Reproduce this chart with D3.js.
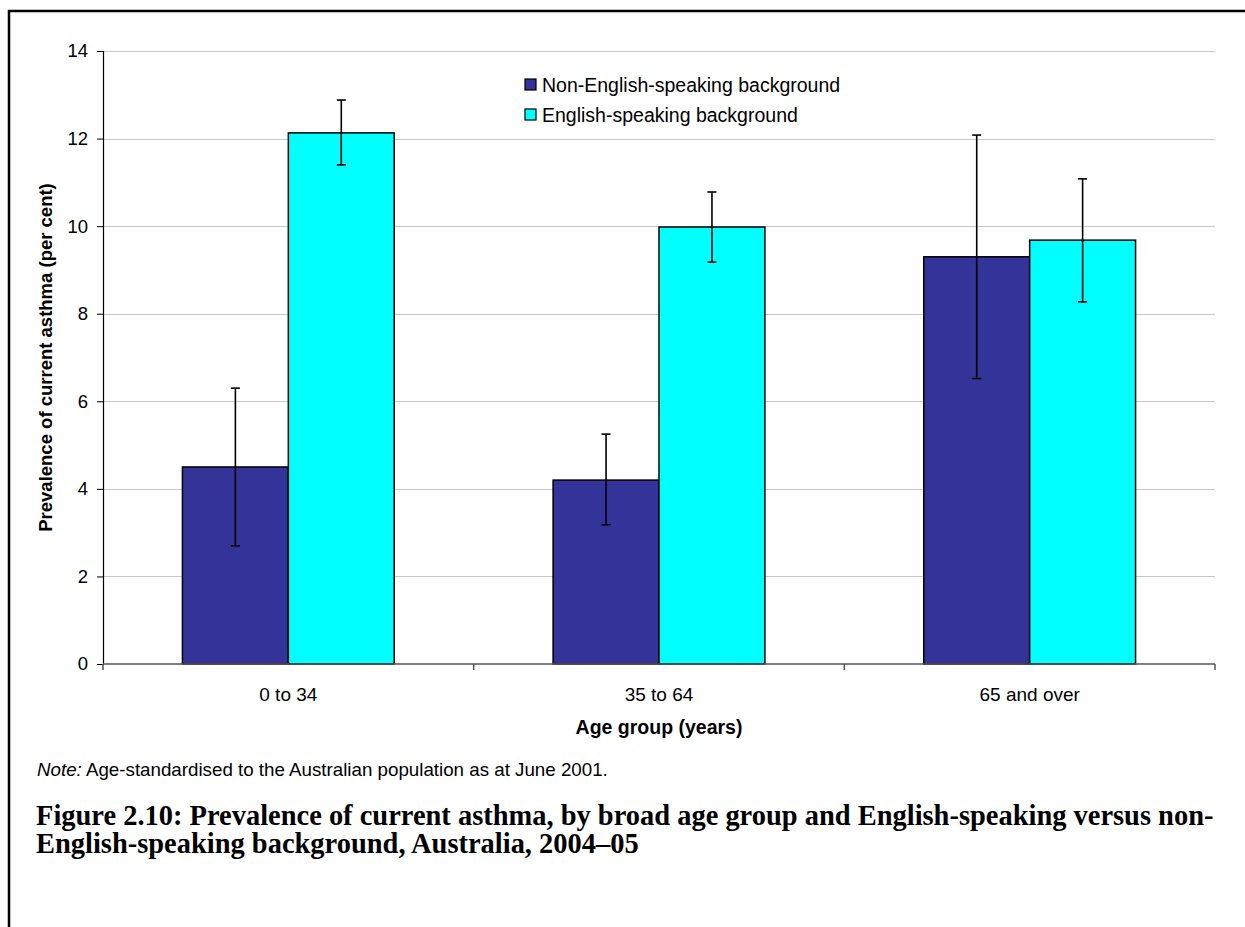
<!DOCTYPE html>
<html>
<head>
<meta charset="utf-8">
<script src="https://cdn.jsdelivr.net/npm/d3@7"></script>
<style>
  html, body { margin: 0; padding: 0; background: #fff; }
  svg { display: block; }
</style>
</head>
<body>
<svg id="chart" width="1245" height="927"></svg>
<script>
// Age groups and series
const categories = ["0 to 34", "35 to 64", "65 and over"];
const seriesNames = ["Non-English-speaking background", "English-speaking background"];
const seriesColors = ["#333399", "#00FFFF"];

// Prevalence (per cent) and 95% confidence limits
const nesbValues = [4.50, 4.20, 9.30];
const nesbLower  = [2.70, 3.18, 6.52];
const nesbUpper  = [6.30, 5.25, 12.08];
const esbValues  = [12.13, 9.98, 9.68];
const esbLower   = [11.40, 9.18, 8.27];
const esbUpper   = [12.88, 10.78, 11.08];

const yTicks = [0, 2, 4, 6, 8, 10, 12, 14];

const series = [
  { name: seriesNames[0], color: seriesColors[0], values: nesbValues, lower: nesbLower, upper: nesbUpper },
  { name: seriesNames[1], color: seriesColors[1], values: esbValues, lower: esbLower, upper: esbUpper }
];

const svg = d3.select("#chart");
const plot = { left: 103, right: 1215, top: 51, bottom: 664 };

const x0 = d3.scaleBand().domain(categories).range([plot.left, plot.right]).padding(0);
const x1 = d3.scaleBand().domain(seriesNames).range([0, x0.bandwidth()])
  .paddingInner(0).paddingOuter(0.75);
const y = d3.scaleLinear().domain([0, 14]).range([plot.bottom, plot.top]);

const sans = "'Liberation Sans', Arial, sans-serif";

// Page frame (top and left rules)
svg.append("path")
  .attr("d", "M9,927 V11 H1245")
  .attr("fill", "none").attr("stroke", "#000").attr("stroke-width", 2.5);

// Horizontal gridlines
svg.append("g").selectAll("line").data(yTicks.filter(d => d > 0)).join("line")
  .attr("x1", plot.left).attr("x2", plot.right)
  .attr("y1", d => Math.round(y(d)) + 0.5).attr("y2", d => Math.round(y(d)) + 0.5)
  .attr("stroke", "#c8c8c8").attr("stroke-width", 1);

// Bars
const groups = svg.append("g").selectAll("g").data(categories).join("g")
  .attr("transform", d => `translate(${x0(d)},0)`);

series.forEach(s => {
  groups.append("rect")
    .attr("x", (d, i) => x1(s.name))
    .attr("y", (d, i) => y(s.values[i]))
    .attr("width", x1.bandwidth())
    .attr("height", (d, i) => y(0) - y(s.values[i]))
    .attr("fill", s.color)
    .attr("stroke", "#000").attr("stroke-width", 1.5);
});

// Error bars
series.forEach(s => {
  const cx = x1(s.name) + x1.bandwidth() / 2;
  const eb = groups.append("g").attr("stroke", "#000").attr("stroke-width", 1.6);
  eb.append("line")
    .attr("x1", cx).attr("x2", cx)
    .attr("y1", (d, i) => y(s.lower[i])).attr("y2", (d, i) => y(s.upper[i]));
  eb.append("line")
    .attr("x1", cx - 4.5).attr("x2", cx + 4.5)
    .attr("y1", (d, i) => y(s.upper[i])).attr("y2", (d, i) => y(s.upper[i]));
  eb.append("line")
    .attr("x1", cx - 4.5).attr("x2", cx + 4.5)
    .attr("y1", (d, i) => y(s.lower[i])).attr("y2", (d, i) => y(s.lower[i]));
});

// Y axis
const yAxis = svg.append("g")
  .attr("transform", `translate(${plot.left},0)`)
  .call(d3.axisLeft(y).tickValues(yTicks).tickSize(6).tickPadding(9).tickFormat(d3.format("d")));
yAxis.select(".domain").attr("stroke", "#000").attr("stroke-width", 1.2);
yAxis.selectAll(".tick line").attr("stroke", "#000");
yAxis.selectAll("text").attr("font-family", sans).attr("font-size", 18.5).attr("fill", "#000");

// X axis: ticks sit between categories
const xAxis = svg.append("g")
  .attr("transform", `translate(0,${plot.bottom})`);
xAxis.append("line")
  .attr("x1", plot.left).attr("x2", plot.right).attr("y1", 0).attr("y2", 0)
  .attr("stroke", "#555").attr("stroke-width", 1.5);
const boundaries = categories.map(c => x0(c)).concat([x0(categories[categories.length - 1]) + x0.bandwidth()]);
xAxis.selectAll("line.tk").data(boundaries).join("line").attr("class", "tk")
  .attr("x1", d => d).attr("x2", d => d).attr("y1", 0).attr("y2", 6)
  .attr("stroke", "#555").attr("stroke-width", 1.5);
xAxis.selectAll("text").data(categories).join("text")
  .attr("x", d => x0(d) + x0.bandwidth() / 2).attr("y", 37)
  .attr("text-anchor", "middle")
  .attr("font-family", sans).attr("font-size", 19).text(d => d);

// Axis titles
svg.append("text")
  .attr("x", x0(categories[1]) + x0.bandwidth() / 2).attr("y", 734)
  .attr("text-anchor", "middle").attr("font-family", sans)
  .attr("font-weight", "bold").attr("font-size", 19.5)
  .text("Age group (years)");

svg.append("text")
  .attr("transform", `translate(52,${(plot.top + plot.bottom) / 2 + 0}) rotate(-90)`)
  .attr("text-anchor", "middle").attr("font-family", sans)
  .attr("font-weight", "bold").attr("font-size", 18.5)
  .text("Prevalence of current asthma (per cent)");

// Legend
const legend = svg.append("g").attr("transform", "translate(525,79)");
const li = legend.selectAll("g").data(series).join("g")
  .attr("transform", (d, i) => `translate(0,${i * 30})`);
li.append("rect").attr("width", 11).attr("height", 11)
  .attr("fill", d => d.color).attr("stroke", "#000").attr("stroke-width", 1.2);
li.append("text").attr("x", 17).attr("y", 12.5)
  .attr("font-family", sans).attr("font-size", 19.5).text(d => d.name);

// Note, sized to span its line
const note = svg.append("text").attr("x", 37).attr("y", 776)
  .attr("font-family", "'Liberation Sans Narrow', 'Arial Narrow', 'Liberation Sans', sans-serif")
  .attr("font-size", 17);
note.append("tspan").attr("font-style", "italic").text("Note:");
note.append("tspan").text(" Age-standardised to the Australian population as at June 2001.");
note.attr("font-size", 17 * 571 / note.node().getComputedTextLength());

// Figure caption, sized so its first line spans the text block
const capLines = [
  "Figure 2.10: Prevalence of current asthma, by broad age group and English-speaking versus non-",
  "English-speaking background, Australia, 2004\u201305"
];
const caption = svg.append("g").attr("font-family", "'Liberation Serif', 'Times New Roman', serif")
  .attr("font-weight", "bold");
const cap1 = caption.append("text").attr("x", 36).attr("y", 825).attr("font-size", 20).text(capLines[0]);
const fs = 20 * 1178 / cap1.node().getComputedTextLength();
cap1.attr("font-size", fs);
caption.append("text").attr("x", 36).attr("y", 853).attr("font-size", fs).text(capLines[1]);
</script>
</body>
</html>
